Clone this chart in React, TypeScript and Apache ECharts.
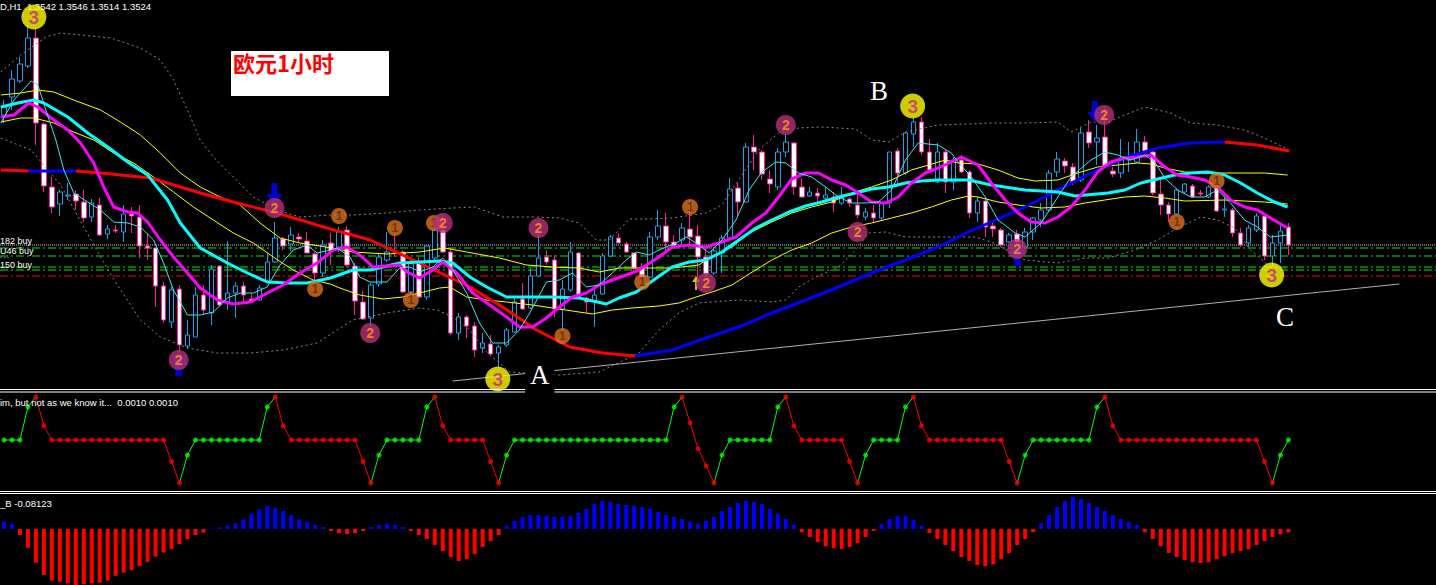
import React, { useEffect, useRef } from "react";
import * as echarts from "echarts";

const SLOTS = 180;

const opens = [
1.3654,1.3672,1.3688,1.3703,1.3731,1.3645,1.3582,1.3565,1.3573,1.3575,
1.3567,1.3552,1.3564,1.3535,1.3539,1.3537,1.3555,1.3552,1.3523,1.3521,
1.3483,1.3447,1.3480,1.3423,1.3432,1.3474,1.3456,1.3503,1.3467,1.3476,
1.3483,1.3470,1.3469,1.3487,1.3507,1.3530,1.3525,1.3532,1.3528,1.3515,
1.3496,1.3526,1.3522,1.3539,1.3503,1.3467,1.3451,1.3485,1.3509,1.3518,
1.3517,1.3477,1.3506,1.3472,1.3511,1.3539,1.3517,1.3436,1.3452,1.3443,
1.3421,1.3425,1.3416,1.3424,1.3437,1.3470,1.3461,1.3493,1.3512,1.3509,
1.3460,1.3479,1.3516,1.3471,1.3468,1.3475,1.3513,1.3531,1.3525,1.3516,
1.3501,1.3492,1.3532,1.3543,1.3527,1.3529,1.3540,1.3533,1.3512,1.3496,
1.3516,1.3531,1.3581,1.3567,1.3622,1.3617,1.3590,1.3582,1.3617,1.3626,
1.3582,1.3573,1.3576,1.3571,1.3572,1.3566,1.3570,1.3564,1.3552,1.3556,
1.3551,1.3566,1.3618,1.3596,1.3635,1.3647,1.3617,1.3587,1.3617,1.3587,
1.3609,1.3597,1.3556,1.3568,1.3543,1.3539,1.3527,1.3535,1.3522,1.3537,
1.3549,1.3559,1.3597,1.3608,1.3602,1.3589,1.3637,1.3627,1.3632,1.3598,
1.3596,1.3609,1.3607,1.3627,1.3617,1.3575,1.3564,1.3555,1.3577,1.3583,
1.3576,1.3572,1.3582,1.3559,1.3559,1.3536,1.3526,1.3539,1.3553,1.3513,
1.3526,1.3542];
const highs = [
1.3669,1.3699,1.3712,1.3744,1.3741,1.3647,1.3592,1.3579,1.3586,1.3579,
1.3579,1.3570,1.3571,1.3544,1.3544,1.3564,1.3562,1.3564,1.3536,1.3521,
1.3487,1.3482,1.3484,1.3449,1.3482,1.3484,1.3504,1.3504,1.3528,1.3487,
1.3487,1.3476,1.3484,1.3516,1.3547,1.3532,1.3542,1.3536,1.3537,1.3517,
1.3529,1.3536,1.3542,1.3543,1.3506,1.3478,1.3486,1.3516,1.3537,1.3536,
1.3519,1.3512,1.3512,1.3524,1.3544,1.3554,1.3521,1.3456,1.3454,1.3447,
1.3436,1.3434,1.3424,1.3441,1.3472,1.3486,1.3501,1.3536,1.3519,1.3514,
1.3489,1.3527,1.3517,1.3472,1.3482,1.3516,1.3534,1.3536,1.3527,1.3517,
1.3506,1.3537,1.3559,1.3556,1.3534,1.3546,1.3569,1.3544,1.3522,1.3522,
1.3534,1.3591,1.3586,1.3626,1.3634,1.3619,1.3599,1.3621,1.3636,1.3627,
1.3591,1.3582,1.3581,1.3582,1.3577,1.3582,1.3572,1.3576,1.3561,1.3564,
1.3567,1.3617,1.3621,1.3637,1.3651,1.3652,1.3630,1.3626,1.3619,1.3612,
1.3614,1.3599,1.3572,1.3571,1.3547,1.3541,1.3536,1.3539,1.3541,1.3552,
1.3566,1.3599,1.3617,1.3611,1.3606,1.3641,1.3649,1.3644,1.3661,1.3602,
1.3630,1.3627,1.3640,1.3633,1.3619,1.3592,1.3567,1.3581,1.3586,1.3585,
1.3579,1.3584,1.3584,1.3572,1.3561,1.3541,1.3544,1.3556,1.3554,1.3534,
1.3544,1.3546];
const lows = [
1.3646,1.3659,1.3686,1.3701,1.3624,1.3577,1.3556,1.3553,1.3569,1.3559,
1.3547,1.3547,1.3533,1.3530,1.3536,1.3527,1.3536,1.3511,1.3509,1.3462,
1.3446,1.3441,1.3417,1.3420,1.3432,1.3454,1.3444,1.3462,1.3459,1.3451,
1.3467,1.3466,1.3468,1.3486,1.3506,1.3519,1.3518,1.3527,1.3516,1.3487,
1.3492,1.3504,1.3517,1.3502,1.3454,1.3449,1.3442,1.3482,1.3507,1.3512,
1.3476,1.3472,1.3471,1.3469,1.3509,1.3516,1.3434,1.3429,1.3431,1.3412,
1.3416,1.3414,1.3401,1.3422,1.3436,1.3459,1.3460,1.3492,1.3504,1.3452,
1.3429,1.3477,1.3471,1.3456,1.3442,1.3474,1.3512,1.3526,1.3516,1.3499,
1.3491,1.3491,1.3529,1.3516,1.3521,1.3522,1.3522,1.3492,1.3492,1.3494,
1.3496,1.3529,1.3552,1.3566,1.3599,1.3589,1.3576,1.3579,1.3612,1.3574,
1.3571,1.3572,1.3566,1.3566,1.3557,1.3564,1.3562,1.3551,1.3549,1.3547,
1.3549,1.3561,1.3582,1.3594,1.3622,1.3614,1.3597,1.3586,1.3576,1.3579,
1.3596,1.3551,1.3547,1.3532,1.3532,1.3522,1.3526,1.3524,1.3521,1.3529,
1.3542,1.3557,1.3592,1.3596,1.3584,1.3587,1.3621,1.3604,1.3602,1.3592,
1.3591,1.3597,1.3606,1.3616,1.3574,1.3554,1.3547,1.3554,1.3576,1.3571,
1.3573,1.3571,1.3557,1.3552,1.3532,1.3522,1.3522,1.3537,1.3509,1.3502,
1.3506,1.3514];
const closes = [
1.3662,1.3690,1.3705,1.3731,1.3646,1.3583,1.3562,1.3577,1.3574,1.3568,
1.3551,1.3566,1.3534,1.3540,1.3538,1.3555,1.3553,1.3523,1.3521,1.3483,
1.3449,1.3479,1.3424,1.3434,1.3474,1.3459,1.3500,1.3464,1.3476,1.3483,
1.3474,1.3467,1.3481,1.3507,1.3531,1.3523,1.3534,1.3530,1.3516,1.3496,
1.3524,1.3518,1.3537,1.3504,1.3468,1.3450,1.3484,1.3512,1.3517,1.3517,
1.3477,1.3506,1.3472,1.3523,1.3539,1.3517,1.3436,1.3452,1.3443,1.3419,
1.3426,1.3415,1.3422,1.3439,1.3467,1.3460,1.3493,1.3511,1.3507,1.3460,
1.3480,1.3517,1.3472,1.3467,1.3474,1.3513,1.3532,1.3526,1.3517,1.3501,
1.3492,1.3532,1.3543,1.3527,1.3522,1.3541,1.3532,1.3512,1.3495,1.3518,
1.3531,1.3580,1.3567,1.3622,1.3617,1.3595,1.3585,1.3617,1.3627,1.3582,
1.3572,1.3577,1.3573,1.3574,1.3566,1.3572,1.3566,1.3554,1.3557,1.3551,
1.3566,1.3617,1.3596,1.3636,1.3647,1.3617,1.3599,1.3617,1.3587,1.3609,
1.3597,1.3556,1.3568,1.3542,1.3540,1.3524,1.3534,1.3527,1.3537,1.3551,
1.3559,1.3596,1.3610,1.3603,1.3587,1.3636,1.3626,1.3631,1.3603,1.3595,
1.3611,1.3610,1.3627,1.3617,1.3576,1.3564,1.3555,1.3579,1.3585,1.3572,
1.3575,1.3582,1.3558,1.3560,1.3536,1.3524,1.3541,1.3553,1.3513,1.3526,
1.3538,1.3524];

const fastMa = [[-0.4,1.3646],[1.25,1.3669],[3.4,1.3688],[4.25,1.3684],[5.25,1.3659],[6.5,1.3629],[7.5,1.3599],[8.75,1.3576],[10.5,1.3567],[12.1,1.3559],[13.75,1.3547],[15.5,1.3546],[17.1,1.3542],[18.75,1.3529],[20,1.3506],[21.25,1.3479],[23,1.3454],[24.6,1.3454],[26.25,1.3457],[28,1.3471],[29.6,1.3476],[31.25,1.3476],[33,1.3482],[34.6,1.3504],[36.25,1.3519],[38,1.3524],[39.25,1.3516],[40.9,1.3519],[41.75,1.3521],[43.4,1.3512],[44.6,1.3492],[45.9,1.3487],[48,1.3487],[49.6,1.3501],[50.9,1.3502],[52.1,1.3497],[53.75,1.3502],[55,1.3511],[56.25,1.3499],[58,1.3476],[59.6,1.3446],[61.25,1.3426],[63,1.3426],[64.6,1.3439],[65.9,1.3456],[68,1.3487],[69.6,1.3489],[71.25,1.3496],[73,1.3482],[74.6,1.3484],[76.25,1.3496],[78,1.3509],[79.25,1.3517],[80.9,1.3514],[82.1,1.3519],[84.25,1.3526],[85.5,1.3532],[86.75,1.3526],[88.4,1.3516],[90,1.3529],[91.75,1.3549],[93.4,1.3579],[95,1.3597],[96.75,1.3607],[98,1.3606],[99.6,1.3596],[101.25,1.3592],[103,1.3582],[104.6,1.3572],[106.25,1.3566],[108,1.3566],[109.6,1.3567],[111.25,1.3579],[113,1.3609],[114.6,1.3626],[117.1,1.3624],[118.75,1.3616],[119.6,1.3607],[121.25,1.3592],[123,1.3572],[124.6,1.3549],[126.75,1.3536],[128,1.3532],[130,1.3546],[132.1,1.3572],[133.75,1.3592],[136.25,1.3609],[138,1.3617],[139.6,1.3614],[141.25,1.3609],[143,1.3614],[144.25,1.3607],[145.5,1.3591],[147.1,1.3579],[148.75,1.3572],[150.5,1.3572],[152.1,1.3579],[153.75,1.3566],[155.5,1.3549],[157.1,1.3542],[158.75,1.3532],[160.9,1.3534]];

const midMa = [[-0.4,1.3662],[1.75,1.3666],[3.75,1.3669],[5,1.3666],[8,1.3652],[10.5,1.3636],[13,1.3622],[15.5,1.3607],[18,1.3594],[20.5,1.3569],[22.1,1.3546],[24.6,1.3521],[28,1.3506],[30.5,1.3496],[33,1.3487],[35.5,1.3486],[38,1.3486],[40.9,1.3491],[43.75,1.3499],[45.9,1.3499],[49.6,1.3506],[54.6,1.3508],[56.25,1.3506],[58.4,1.3492],[60.5,1.3482],[63,1.3472],[68.75,1.3472],[72.1,1.3471],[75.5,1.3465],[77.1,1.3471],[79.25,1.3477],[80.9,1.3486],[83.75,1.3502],[85.9,1.3507],[88,1.3509],[90,1.3517],[92.1,1.3529],[94.25,1.3541],[96.25,1.3549],[98.4,1.3557],[100.5,1.3563],[102.5,1.3567],[104.6,1.3572],[106.75,1.3576],[108.75,1.3580],[110.9,1.3582],[113,1.3586],[115,1.3588],[117.1,1.3589],[120.9,1.3589],[123.75,1.3584],[128,1.3579],[132.1,1.3577],[134.25,1.3573],[138.4,1.3576],[140.5,1.3579],[142.5,1.3586],[144.6,1.3590],[146.75,1.3594],[148.75,1.3596],[150.9,1.3597],[153,1.3594],[155,1.3586],[157.1,1.3576],[159.25,1.3567],[160.9,1.3562]];

const magentaMa = [[-0.4,1.3652],[1.25,1.3654],[3.1,1.3666],[4.25,1.3662],[5.9,1.3651],[8,1.3639],[9.6,1.3626],[11.25,1.3606],[12.5,1.3582],[13.75,1.3562],[15.5,1.3557],[16.75,1.3556],[18,1.3547],[19.6,1.3529],[21.25,1.3512],[23,1.3496],[24.6,1.3481],[26.75,1.3469],[28.75,1.3465],[30.9,1.3467],[33,1.3476],[35,1.3484],[37.1,1.3496],[39.25,1.3506],[41.25,1.3519],[43,1.3522],[44.6,1.3514],[46.25,1.3502],[49.6,1.3504],[50.5,1.3497],[52.1,1.3491],[53.75,1.3499],[55,1.3507],[56.75,1.3496],[58.75,1.3476],[61.25,1.3462],[63,1.3452],[64.6,1.3442],[66.25,1.3442],[68,1.3451],[69.6,1.3462],[71.25,1.3472],[73,1.3476],[74.6,1.3484],[76.25,1.3489],[78,1.3494],[79.6,1.3499],[82.1,1.3512],[83.75,1.3522],[85.9,1.3524],[88,1.3522],[89.6,1.3526],[91.75,1.3532],[93.75,1.3546],[95.5,1.3556],[97.1,1.3572],[98.75,1.3590],[100.5,1.3596],[102.1,1.3596],[103.75,1.3589],[105.5,1.3584],[107.1,1.3576],[108.75,1.3567],[110.5,1.3566],[112.1,1.3572],[113.75,1.3586],[115.5,1.3596],[117.1,1.3601],[118.75,1.3607],[120,1.3612],[122.1,1.3604],[123.75,1.3586],[125.5,1.3569],[127.1,1.3556],[128.75,1.3547],[130.5,1.3546],[132.1,1.3552],[133.75,1.3562],[135.5,1.3579],[137.1,1.3597],[138.75,1.3607],[140.5,1.3611],[142.1,1.3612],[143.75,1.3614],[145.5,1.3602],[147.1,1.3594],[148.75,1.3592],[150.5,1.3589],[152.1,1.3582],[153.75,1.3569],[155.5,1.3562],[157.1,1.3559],[158.75,1.3551],[160.9,1.3541]];

const envUpper = [[-0.4,1.3674],[2.1,1.3676],[4.25,1.3679],[6.25,1.3677],[8.75,1.3669],[12.1,1.3659],[14.6,1.3647],[17.1,1.3634],[19.6,1.3616],[22.1,1.3596],[24.6,1.3582],[27.1,1.3572],[29.6,1.3564],[32.1,1.3546],[34.6,1.3531],[37.1,1.3526],[39.6,1.3523],[43.75,1.3517],[48,1.3515],[52.1,1.3517],[55.25,1.3521],[58,1.3517],[62.1,1.3511],[65.5,1.3504],[68.75,1.3502],[72.1,1.3501],[74.6,1.3497],[77.1,1.3501],[80.9,1.3501],[83.75,1.3501],[87.1,1.3504],[88,1.3509],[91.25,1.3522],[93.4,1.3536],[96.25,1.3547],[98.75,1.3556],[101.25,1.3562],[103.75,1.3567],[106.25,1.3576],[108.75,1.3582],[111.25,1.3589],[113.75,1.3599],[115.9,1.3604],[118,1.3609],[119.6,1.3606],[122.1,1.3605],[124.6,1.3599],[127.1,1.3591],[129.25,1.3588],[132.1,1.3589],[134.6,1.3596],[137.1,1.3602],[139.6,1.3604],[142.1,1.3606],[143.75,1.3605],[145.5,1.3601],[148,1.3597],[150.5,1.3596],[155.5,1.3596],[158,1.3596],[160.9,1.3594]];

const envLower = [[-0.4,1.3647],[2.1,1.3651],[3.75,1.3651],[6.25,1.3646],[8.75,1.3637],[11.25,1.3629],[13.75,1.3616],[16.25,1.3606],[18.75,1.3592],[21.25,1.3577],[23.75,1.3562],[26.25,1.3549],[28.75,1.3536],[31.25,1.3526],[33.75,1.3512],[36.25,1.3499],[38.75,1.3489],[40.9,1.3485],[42.1,1.3481],[44.6,1.3474],[47.5,1.3470],[50,1.3472],[52.1,1.3476],[54.6,1.3481],[55.9,1.3482],[58,1.3472],[60.5,1.3469],[63,1.3467],[66.25,1.3464],[68.75,1.3461],[71.25,1.3458],[73.75,1.3455],[76.25,1.3459],[78.75,1.3461],[82.1,1.3463],[84.6,1.3466],[86.75,1.3472],[88.75,1.3477],[91.25,1.3484],[93.4,1.3495],[96.25,1.3509],[98.75,1.3519],[101.25,1.3526],[103.75,1.3536],[106.25,1.3542],[108.75,1.3546],[111.25,1.3551],[113.75,1.3556],[116.25,1.3562],[118.75,1.3569],[120.9,1.3573],[122.1,1.3572],[124.6,1.3567],[127.1,1.3564],[130,1.3561],[133,1.3562],[135.5,1.3566],[138,1.3569],[140.5,1.3572],[143,1.3573],[145.5,1.3571],[148,1.3568],[153,1.3569],[158,1.3567],[160.9,1.3565]];

const bandUpper = [[-0.4,1.3697],[2.1,1.3714],[5.25,1.3732],[7.1,1.3736],[13.4,1.3731],[17.1,1.3721],[19.6,1.3709],[21.25,1.3689],[23,1.3659],[24.6,1.3629],[26.25,1.3612],[28.75,1.3592],[31.25,1.3572],[34.25,1.3559],[37.1,1.3552],[40.9,1.3554],[43.75,1.3554],[48,1.3556],[52.1,1.3559],[56.25,1.3561],[59,1.3562],[62.5,1.3552],[66.75,1.3552],[69.6,1.3551],[72.1,1.3546],[74.25,1.3529],[75.9,1.3529],[78.4,1.3550],[80.9,1.3550],[83.75,1.3551],[88,1.3556],[90,1.3564],[92.1,1.3589],[94.6,1.3619],[97.1,1.3636],[99.6,1.3641],[102.5,1.3642],[106.75,1.3640],[108.75,1.3629],[110.9,1.3627],[113,1.3637],[117.1,1.3644],[120.9,1.3645],[123.75,1.3646],[128,1.3646],[132.1,1.3647],[133.75,1.3637],[136.25,1.3647],[138.4,1.3647],[140.5,1.3654],[143,1.3662],[146.25,1.3656],[148.75,1.3646],[152.1,1.3644],[155.5,1.3639],[158,1.3631],[160.6,1.3621]];

const bandLower = [[-0.4,1.3631],[3.4,1.3619],[7.1,1.3584],[10.9,1.3529],[13.4,1.3494],[17.1,1.3449],[19.6,1.3432],[23,1.3421],[26.75,1.3416],[30.9,1.3416],[35,1.3419],[39.25,1.3426],[41.75,1.3439],[43.75,1.3449],[48,1.3456],[52.1,1.3461],[54.25,1.3459],[56.25,1.3452],[58.4,1.3439],[60.5,1.3417],[63.4,1.3397],[69.6,1.3394],[74.6,1.3397],[79.6,1.3416],[82.1,1.3439],[84.6,1.3456],[87.1,1.3466],[92.1,1.3469],[96.25,1.3467],[98,1.3469],[99.6,1.3482],[101.75,1.3492],[104.6,1.3502],[106.75,1.3519],[108.4,1.3536],[110.5,1.3537],[113,1.3532],[121.75,1.3532],[123.75,1.3527],[128,1.3509],[132.1,1.3506],[135.5,1.3511],[138.4,1.3511],[141.75,1.3519],[144.6,1.3529],[147.1,1.3541],[150,1.3552],[152.1,1.3549],[154.25,1.3541],[156.25,1.3519],[158.75,1.3502],[160.9,1.3501]];

const longMaFalling = [
  [[-0.4,1.3599],[3.1,1.3598]],
  [[9,1.3598],[12.1,1.3596],[18.4,1.3591],[24.6,1.3576],[28.75,1.3567],[34.25,1.3556],[40.9,1.3540],[45.9,1.3529],[52.1,1.3506],[58.4,1.3482],[62.5,1.3462],[66.75,1.3439],[70.9,1.3422],[75,1.3416],[79.1,1.3413]],
  [[153,1.3627],[157.1,1.3624],[161.1,1.3618]],
];
const longMaRising = [
  [[3.1,1.3598],[9,1.3598]],
  [[79.1,1.3413],[83.75,1.3419],[88,1.3431],[92.1,1.3442],[96.25,1.3456],[100.5,1.3469],[104.6,1.3482],[108.75,1.3496],[113,1.3509],[117.1,1.3522],[120.9,1.3537],[128,1.3562],[132.1,1.3579],[136.25,1.3596],[140.5,1.3611],[144.6,1.3621],[148.75,1.3626],[153,1.3627]],
];

const trendLine = [[56.25,1.3388],[174.9,1.3485]];

const priceLine = 1.3524;
const greenLevels = [1.3521, 1.3513, 1.3502, 1.3499];
const redLevel = 1.3493;

const wave3 = [[3.75,1.3752],[61.9,1.3390],[113.9,1.3663],[158.9,1.3494]];
const wave2 = [[21.9,1.3409],[33.9,1.3561],[45.9,1.3436],[55,1.3546],[67,1.3541],[88,1.3486],[98,1.3644],[107,1.3537],[127,1.3520],[137.9,1.3654]];
const wave1 = [[42,1.3553],[49,1.3541],[53.9,1.3546],[39,1.3480],[51,1.3469],[70,1.3433],[80,1.3487],[86,1.3562],[147,1.3547],[152,1.3588]];
const sellArrows = [[33.9,1.3575],[136.75,1.3657]];
const buyArrows = [[21.9,1.3405],[127,1.3515]];
const smallBuyArrow = [[86.75,1.3486]];

const oscValues = [0,0,0,0.77,1,0.33,
0,0,0,0,0,0,0,0,0,0,0,0,0,0,0,
-0.5,-1,-0.35,
0,0,0,0,0,0,0,0,0,
0.77,1,0.33,
0,0,0,0,0,0,0,0,0,
-0.5,-1,-0.35,
0,0,0,0,0,
0.77,1,0.33,
0,0,0,0,0,
-0.5,-1,-0.35,
0,0,0,0,0,0,0,0,0,0,0,0,0,0,0,0,0,0,0,0,
0.77,1,0.4,-0.2,-0.6,-1,-0.35,
0,0,0,0,0,0,
0.77,1,0.33,
0,0,0,0,0,0,
-0.5,-1,-0.35,
0,0,0,0,
0.77,1,0.33,
0,0,0,0,0,0,0,0,0,0,
-0.5,-1,-0.35,
0,0,0,0,0,0,0,0,
0.77,1,0.33,
0,0,0,0,0,0,0,0,0,0,0,0,0,0,0,0,0,0,
-0.5,-1,-0.35,0];
const oscState =
  "GGGG" + "RRRRRRRRRRRRRRRRRRR" + "GGGGGGGGGGG" + "RRRRRRRRRRRRR" + "GGGGGGG" +
  "RRRRRRRRR" + "GGGGGGGGGGGGGGGGGGGGGG" + "RRRRR" + "GGGGGGGG" + "RRRRRRRRRR" +
  "GGGGGG" + "RRRRRRRRRRRRRR" + "GGGGGGGGGG" + "RRRRRRRRRRRRRRRRRRRRRR" + "GG";

const histValues = [
0.18,0.13,-0.15,-0.47,-0.84,-1.15,-1.29,-1.32,-1.36,-1.40,
-1.38,-1.36,-1.34,-1.29,-1.17,-1.09,-1.03,-0.93,-0.82,-0.69,
-0.59,-0.50,-0.38,-0.26,-0.15,-0.09,0.01,0.04,0.08,0.14,
0.24,0.38,0.49,0.58,0.52,0.45,0.35,0.24,0.18,0.10,
0.05,-0.05,-0.10,-0.13,-0.10,-0.05,0.05,0.10,0.13,0.10,
0.05,-0.05,-0.15,-0.25,-0.40,-0.55,-0.70,-0.80,-0.75,-0.63,
-0.45,-0.30,-0.15,0.08,0.20,0.30,0.35,0.35,0.33,0.30,
0.30,0.33,0.40,0.50,0.63,0.70,0.68,0.63,0.60,0.58,
0.55,0.50,0.43,0.35,0.30,0.25,0.18,0.13,0.20,0.30,
0.45,0.55,0.65,0.70,0.68,0.63,0.50,0.38,0.25,0.10,
-0.08,-0.20,-0.33,-0.43,-0.48,-0.50,-0.45,-0.35,-0.20,-0.05,
0.13,0.25,0.33,0.33,0.23,0.08,-0.10,-0.25,-0.40,-0.55,
-0.70,-0.80,-0.90,-0.93,-0.88,-0.75,-0.60,-0.40,-0.25,-0.08,
0.15,0.35,0.55,0.70,0.80,0.75,0.65,0.55,0.45,0.35,
0.25,0.18,0.10,-0.08,-0.25,-0.43,-0.60,-0.70,-0.78,-0.83,
-0.85,-0.83,-0.75,-0.68,-0.60,-0.55,-0.50,-0.40,-0.30,-0.20,
-0.13,-0.08123];

const headerText = "D,H1  1.3542 1.3546 1.3514 1.3524";
const oscLabel = "im, but not as we know it...  0.0010 0.0010";
const histLabel = "_B -0.08123";
const levelLabels = [
  { text: "182 buy", top: 236.5, size: 9 },
  { text: "U46 buy", top: 246, size: 9 },
  { text: "- - -", top: 254, size: 6 },
  { text: "150 buy", top: 260, size: 9 },
];

const UP = "#1e9fe6";
const DOWN = "#ff1e96";

function lineSeries(data: number[][], color: string, width: number, type: any = "solid", z = 3) {
  return {
    type: "line", xAxisIndex: 1, yAxisIndex: 0, data, showSymbol: false, symbol: "none",
    silent: true, z, lineStyle: { color, width, type }, smooth: false,
  };
}

function levelSeries(value: number, color: string, type: any) {
  return lineSeries([[-0.5, value], [SLOTS - 0.5, value]], color, 1, type, 1);
}

function buildOption() {
  const cats = Array.from({ length: SLOTS }, (_, i) => String(i));
  const candles = opens.map((o, i) => [o, closes[i], lows[i], highs[i]]);

  const series: any[] = [];

  series.push(levelSeries(priceLine, "#c4c4c4", [1, 1]));
  greenLevels.forEach((v) => series.push(levelSeries(v, "#00e600", [8, 3, 2, 3])));
  series.push(levelSeries(redLevel, "#ff0000", [8, 3, 2, 3]));

  series.push({
    type: "candlestick", xAxisIndex: 0, yAxisIndex: 0, data: candles, barWidth: 5, z: 2, silent: true,
    itemStyle: { color: "#000", color0: "#fff", borderColor: UP, borderColor0: DOWN, borderWidth: 1 },
  });

  series.push(lineSeries(bandUpper, "#8a8a8a", 1, [2, 3]));
  series.push(lineSeries(bandLower, "#8a8a8a", 1, [2, 3]));
  series.push(lineSeries(trendLine, "#b0b0b0", 1));
  series.push(lineSeries(envUpper, "#ffff00", 1));
  series.push(lineSeries(envLower, "#ffff00", 1));
  longMaFalling.forEach((seg) => series.push(lineSeries(seg, "#ff0000", 3)));
  longMaRising.forEach((seg) => series.push(lineSeries(seg, "#0000ff", 3)));
  series.push(lineSeries(midMa, "#00ffff", 3));
  series.push(lineSeries(magentaMa, "#ff00ff", 3));
  series.push(lineSeries(fastMa, "#3ee6f0", 1));

  series.push({
    type: "scatter", xAxisIndex: 1, yAxisIndex: 0, data: sellArrows, silent: true, z: 6,
    symbol: "path://M5,0L11,0L11,12L16,12L8,24L0,12L5,12Z", symbolSize: [16, 22],
    itemStyle: { color: "#0000ff" },
  });
  series.push({
    type: "scatter", xAxisIndex: 1, yAxisIndex: 0, data: buyArrows, silent: true, z: 6,
    symbol: "path://M8,0L16,12L11,12L11,24L5,24L5,12L0,12Z", symbolSize: [18, 24],
    itemStyle: { color: "#0000ff" },
  });
  series.push({
    type: "scatter", xAxisIndex: 1, yAxisIndex: 0, data: smallBuyArrow, silent: true, z: 6,
    symbol: "path://M4,0L8,6L5,6L5,14L3,14L3,6L0,6Z", symbolSize: [8, 14],
    itemStyle: { color: "#ffff00" },
  });
  series.push({
    type: "scatter", xAxisIndex: 1, yAxisIndex: 0, data: wave1, silent: true, z: 7,
    symbol: "circle", symbolSize: 16, itemStyle: { color: "#e0701c" },
    label: { show: true, position: "inside", formatter: "1", color: "#503018", fontSize: 12, fontWeight: "bold", fontFamily: "Liberation Sans" },
  });
  series.push({
    type: "scatter", xAxisIndex: 1, yAxisIndex: 0, data: wave2, silent: true, z: 8,
    symbol: "circle", symbolSize: 20, itemStyle: { color: "#b5307c" },
    label: { show: true, position: "inside", formatter: "2", color: "#ff9a20", fontSize: 14, fontWeight: "bold", fontFamily: "Liberation Sans" },
  });
  series.push({
    type: "scatter", xAxisIndex: 1, yAxisIndex: 0, data: wave3, silent: true, z: 9,
    symbol: "circle", symbolSize: 25, itemStyle: { color: "#ffff00" },
    label: { show: true, position: "inside", formatter: "3", color: "#c8288c", fontSize: 19, fontWeight: "bold", fontFamily: "Liberation Sans" },
  });

  // oscillator: split into runs of equal colour
  const n = oscValues.length;
  const segColor = (i: number) => (oscState[i] === "G" || oscState[i + 1] === "G" ? "G" : "R");
  let i = 0;
  while (i < n - 1) {
    const c = segColor(i);
    let j = i;
    while (j < n - 1 && segColor(j) === c) j++;
    const pts: number[][] = [];
    for (let k = i; k <= j; k++) pts.push([k, oscValues[k]]);
    series.push({
      type: "line", xAxisIndex: 2, yAxisIndex: 1, data: pts, showSymbol: false, symbol: "none", silent: true,
      lineStyle: { color: c === "G" ? "#00ff00" : "#ff0000", width: 1 },
    });
    i = j;
  }
  series.push({
    type: "scatter", xAxisIndex: 2, yAxisIndex: 1, silent: true, symbolSize: 5, z: 4,
    data: oscValues.map((v, k) => ({ value: [k, v], itemStyle: { color: oscState[k] === "G" ? "#00ff00" : "#ff0000" } })),
  });

  series.push({
    type: "bar", xAxisIndex: 3, yAxisIndex: 2, barWidth: 4, silent: true,
    data: histValues.map((v) => ({ value: v, itemStyle: { color: v >= 0 ? "#0000ff" : "#ff0000" } })),
  });

  const white = "#ffffff";
  const smallFont = '"Liberation Sans", Arial, sans-serif';
  const graphic: any[] = [
    { type: "rect", z: 50, shape: { x: 0, y: 389, width: 1436, height: 1 }, style: { fill: white } },
    { type: "rect", z: 50, shape: { x: 0, y: 391.5, width: 1436, height: 1 }, style: { fill: white } },
    { type: "rect", z: 50, shape: { x: 0, y: 491, width: 1436, height: 1 }, style: { fill: white } },
    { type: "rect", z: 50, shape: { x: 0, y: 493, width: 1436, height: 1 }, style: { fill: white } },
    { type: "text", z: 1, x: 0, y: 1, style: { text: headerText, fill: white, fontSize: 9.5, fontFamily: smallFont } },
    { type: "text", z: 60, x: 0, y: 397, style: { text: oscLabel, fill: white, fontSize: 9.5, fontFamily: smallFont } },
    { type: "text", z: 60, x: 0, y: 498, style: { text: histLabel, fill: white, fontSize: 9.5, fontFamily: smallFont } },
    ...levelLabels.map((l) => ({ type: "text", z: 60, x: 0, y: l.top, style: { text: l.text, fill: white, fontSize: l.size, fontFamily: smallFont } })),
    { type: "rect", z: 60, shape: { x: 231, y: 51, width: 158, height: 45 }, style: { fill: white } },
    { type: "text", z: 61, x: 233, y: 51, style: { text: "欧元1小时", fill: "#ff0000", fontSize: 22, fontWeight: "bold", fontFamily: '"Noto Sans CJK SC", sans-serif' } },
    { type: "text", z: 61, x: 870, y: 77, style: { text: "B", fill: white, fontSize: 27, fontFamily: '"Liberation Serif", serif' } },
    { type: "text", z: 61, x: 525, y: 361, style: { text: "A", fill: white, fontSize: 27, fontFamily: '"Liberation Serif", serif', backgroundColor: "#000", padding: [0, 5, 6, 5] } },
    { type: "text", z: 61, x: 1276, y: 303, style: { text: "C", fill: white, fontSize: 27, fontFamily: '"Liberation Serif", serif' } },
  ];

  return {
    backgroundColor: "#000",
    animation: false,
    grid: [
      { left: -1, top: 0, width: 1440, height: 388 },
      { left: -1, top: 392.7, width: 1440, height: 98.9 },
      { left: -1, top: 495, width: 1440, height: 90 },
    ],
    xAxis: [
      { type: "category", gridIndex: 0, data: cats, show: false, boundaryGap: true },
      { type: "value", gridIndex: 0, min: -0.5, max: SLOTS - 0.5, show: false },
      { type: "value", gridIndex: 1, min: -0.5, max: SLOTS - 0.5, show: false },
      { type: "category", gridIndex: 2, data: cats, show: false, boundaryGap: true },
    ],
    yAxis: [
      { type: "value", gridIndex: 0, min: 1.3381, max: 1.3769, show: false },
      { type: "value", gridIndex: 1, min: -1.2, max: 1.1, show: false },
      { type: "value", gridIndex: 2, min: -1.4, max: 0.85, show: false },
    ],
    series,
    graphic,
  };
}

export default function App() {
  const ref = useRef<HTMLDivElement>(null);
  useEffect(() => {
    if (!ref.current) return;
    const chart = echarts.init(ref.current, undefined, { renderer: "svg" });
    chart.setOption(buildOption() as any);
    return () => chart.dispose();
  }, []);
  return (
    <div
      ref={ref}
      style={{ position: "absolute", left: 0, top: 0, width: 1436, height: 585, background: "#000" }}
    />
  );
}
